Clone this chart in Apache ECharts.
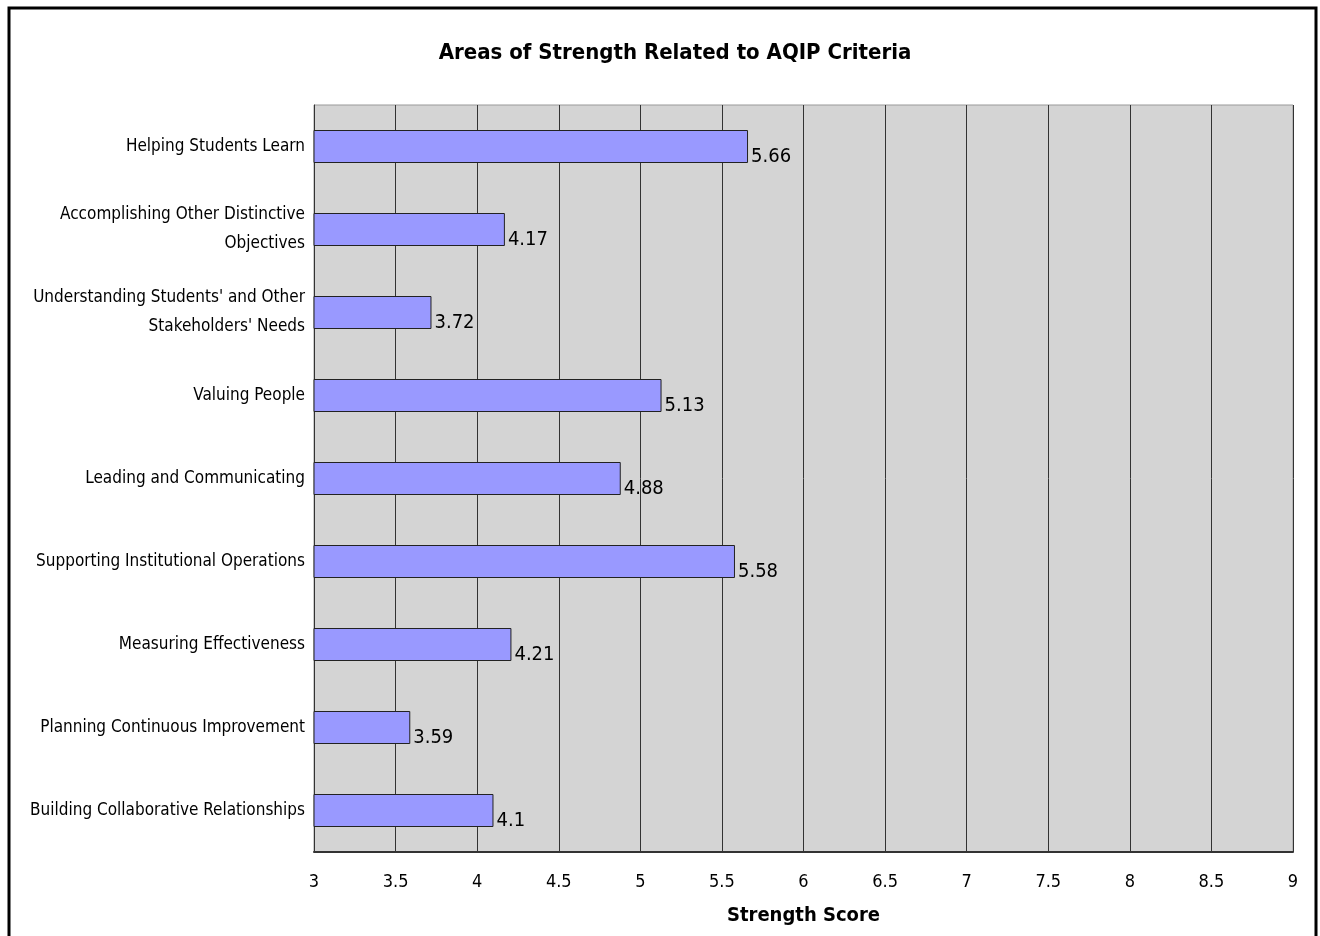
<!DOCTYPE html>
<html>
<head>
<meta charset="utf-8">
<script src="https://cdn.jsdelivr.net/npm/echarts@6/dist/echarts.min.js"></script>
<style>
  html, body { margin: 0; padding: 0; background: #fff; }
  #chart { width: 1320px; height: 936px; }
</style>
</head>
<body>
<div id="chart"></div>
<script>
// AQIP criteria, listed top to bottom
const categories = [
  'Helping Students Learn',
  'Accomplishing Other Distinctive\nObjectives',
  "Understanding Students' and Other\nStakeholders' Needs",
  'Valuing People',
  'Leading and Communicating',
  'Supporting Institutional Operations',
  'Measuring Effectiveness',
  'Planning Continuous Improvement',
  'Building Collaborative Relationships'
];
// Mean strength score per criterion
const strengthScores = [5.66, 4.17, 3.72, 5.13, 4.88, 5.58, 4.21, 3.59, 4.1];
// Score axis range and step
const axisMin = 3;
const axisMax = 9;
const axisStep = 0.5;

const narrow = "'Liberation Sans Narrow', 'Arial Narrow', 'DejaVu Sans Condensed', sans-serif";

const chart = echarts.init(document.getElementById('chart'), null, { renderer: 'canvas' });
chart.setOption({
  backgroundColor: '#ffffff',
  animation: false,
  title: {
    text: 'Areas of Strength Related to AQIP Criteria',
    left: 670,
    top: 37,
    textAlign: 'center',
    textStyle: { fontFamily: narrow, fontSize: 22, fontWeight: 'bold', color: '#000' }
  },
  graphic: [{
    type: 'rect',
    shape: { x: 9, y: 8, width: 1307, height: 960 },
    style: { fill: 'none', stroke: '#000', lineWidth: 3 },
    silent: true,
    z: 100
  }],
  grid: {
    left: 314, right: 27, top: 105, bottom: 84,
    show: true,
    backgroundColor: '#d4d4d4',
    borderColor: '#999999',
    borderWidth: 1
  },
  xAxis: {
    type: 'value',
    min: axisMin, max: axisMax, interval: axisStep,
    name: 'Strength Score',
    nameLocation: 'middle',
    nameGap: 54,
    nameTextStyle: { fontFamily: narrow, fontSize: 20, fontWeight: 'bold', color: '#000' },
    axisLine: { show: true, lineStyle: { color: '#333', width: 2 } },
    axisTick: { show: false },
    axisLabel: { margin: 21, fontFamily: narrow, fontSize: 18, color: '#000' },
    splitLine: { show: true, lineStyle: { color: '#333', width: 1 } }
  },
  yAxis: {
    type: 'category',
    data: categories,
    inverse: true,
    axisLine: { show: true, lineStyle: { color: '#333', width: 1 } },
    axisTick: { show: false },
    axisLabel: {
      margin: 9, fontFamily: narrow, fontSize: 17, color: '#000',
      lineHeight: 29, align: 'right'
    },
    splitLine: { show: false }
  },
  series: [{
    type: 'bar',
    data: strengthScores,
    barWidth: 33,
    itemStyle: { color: '#9999ff', borderColor: '#222', borderWidth: 1 },
    label: {
      show: true,
      position: 'right',
      distance: 3,
      offset: [0, 10],
      fontFamily: narrow,
      fontSize: 20,
      color: '#000',
      formatter: p => String(p.value)
    }
  }]
});
</script>
</body>
</html>
